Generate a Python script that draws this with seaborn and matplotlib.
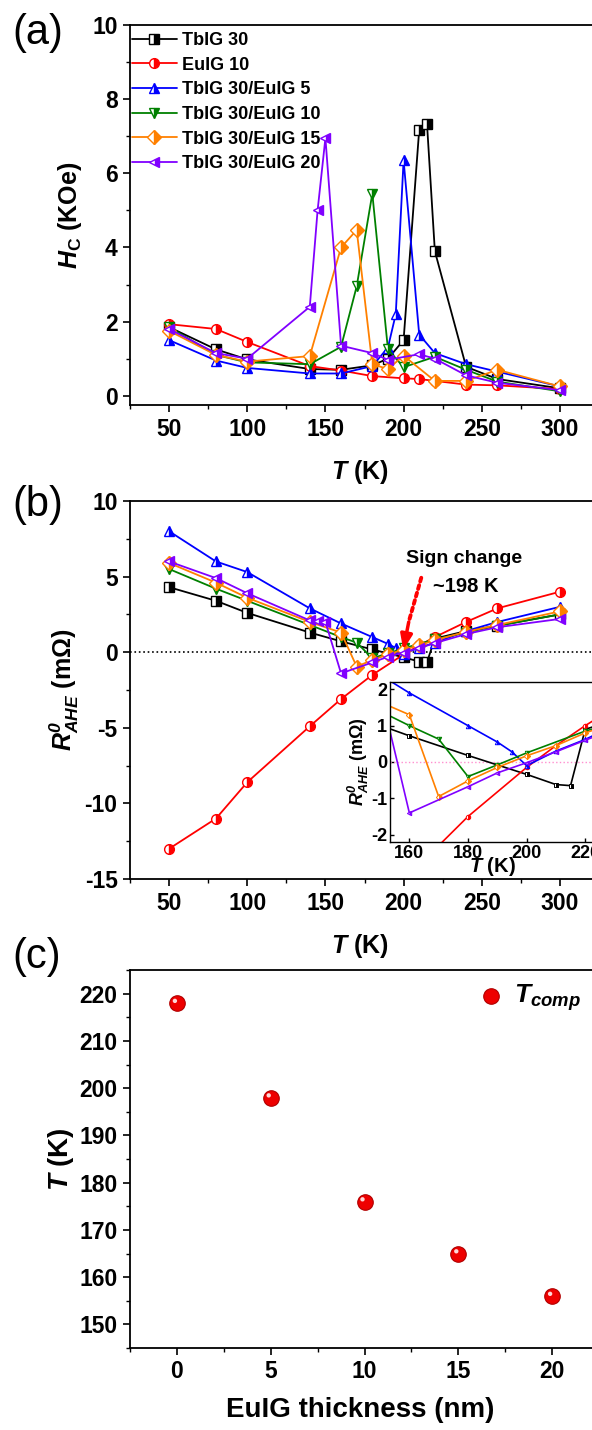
import numpy as np
import pandas as pd
import matplotlib
matplotlib.use("Agg")
import matplotlib.pyplot as plt
import matplotlib.transforms as mtransforms
from matplotlib.ticker import MultipleLocator
import seaborn as sns

sns.set_style("ticks")
plt.rcParams['font.family'] = ['Liberation Sans', 'DejaVu Sans']
plt.rcParams['font.weight'] = 'bold'
plt.rcParams['axes.labelweight'] = 'bold'
plt.rcParams['axes.unicode_minus'] = False
for k in ['text.color', 'axes.labelcolor', 'xtick.color', 'ytick.color', 'axes.edgecolor']:
    plt.rcParams[k] = 'black'
plt.rcParams['mathtext.fontset'] = 'custom'
plt.rcParams['mathtext.rm'] = 'Liberation Sans:bold'
plt.rcParams['mathtext.bf'] = 'Liberation Sans:bold'
plt.rcParams['mathtext.it'] = 'Liberation Sans:italic:bold'
plt.rcParams['mathtext.bfit'] = 'Liberation Sans:italic:bold'

# ---------------- data ----------------
series_labels = ["TbIG 30", "EuIG 10", "TbIG 30/EuIG 5",
                 "TbIG 30/EuIG 10", "TbIG 30/EuIG 15", "TbIG 30/EuIG 20"]
series_colors = ["#000000", "#FF0000", "#0000FF", "#008000", "#FF8000", "#8000FF"]
series_markers = ["s", "o", "^", "v", "D", "<"]

# (a) coercivity H_C (kOe) vs T (K)
hc_T_tbig30 = [50, 80, 100, 140, 160, 180, 190, 200, 210, 215, 220, 240, 260, 300]
hc_tbig30 = [1.85, 1.25, 0.98, 0.72, 0.70, 0.82, 1.0, 1.5, 7.18, 7.32, 3.9, 0.78, 0.45, 0.2]
hc_T_euig10 = [50, 80, 100, 140, 160, 180, 200, 210, 220, 240, 260, 300]
hc_euig10 = [1.93, 1.8, 1.45, 0.8, 0.68, 0.53, 0.47, 0.45, 0.4, 0.3, 0.28, 0.18]
hc_T_e5 = [50, 80, 100, 140, 160, 180, 190, 195, 200, 210, 220, 240, 260, 300]
hc_e5 = [1.5, 0.95, 0.75, 0.6, 0.6, 0.8, 1.3, 2.2, 6.35, 1.65, 1.15, 0.85, 0.65, 0.25]
hc_T_e10 = [50, 80, 100, 140, 160, 170, 180, 190, 200, 220, 240, 260, 300]
hc_e10 = [1.85, 1.1, 0.9, 0.85, 1.32, 2.95, 5.45, 1.25, 0.77, 1.05, 0.7, 0.38, 0.12]
hc_T_e15 = [50, 80, 100, 140, 160, 170, 180, 190, 200, 220, 240, 260, 300]
hc_e15 = [1.75, 1.1, 0.92, 1.07, 4.0, 4.47, 0.85, 0.72, 1.08, 0.4, 0.4, 0.7, 0.25]
hc_T_e20 = [50, 80, 100, 140, 145, 150, 160, 180, 190, 210, 220, 240, 260, 300]
hc_e20 = [1.8, 1.15, 1.0, 2.4, 5.0, 6.95, 1.35, 1.15, 0.97, 1.12, 1.0, 0.55, 0.35, 0.15]

# (b) R0_AHE (mOhm) vs T (K)
r_T_tbig30 = [50, 80, 100, 140, 160, 180, 200, 210, 215, 220, 240, 260, 300]
r_tbig30 = [4.3, 3.4, 2.6, 1.3, 0.72, 0.18, -0.34, -0.62, -0.65, 0.9, 1.4, 1.75, 2.5]
r_T_euig10 = [50, 80, 100, 140, 160, 180, 200, 210, 220, 240, 260, 300]
r_euig10 = [-13.0, -11.0, -8.6, -4.9, -3.1, -1.5, -0.15, 0.45, 1.0, 2.0, 2.9, 4.0]
r_T_e5 = [50, 80, 100, 140, 160, 180, 190, 195, 200, 210, 220, 240, 260, 300]
r_e5 = [8.0, 6.0, 5.3, 2.9, 1.9, 1.0, 0.55, 0.28, -0.1, 0.3, 0.62, 1.4, 2.0, 3.0]
r_T_e10 = [50, 80, 100, 140, 160, 170, 180, 190, 200, 220, 240, 260, 300]
r_e10 = [5.5, 4.2, 3.4, 1.8, 1.0, 0.63, -0.4, -0.08, 0.25, 0.85, 1.3, 1.75, 2.5]
r_T_e15 = [50, 80, 100, 140, 160, 170, 180, 190, 200, 210, 220, 240, 260, 300]
r_e15 = [5.9, 4.6, 3.6, 2.0, 1.3, -0.95, -0.52, -0.15, 0.17, 0.45, 0.8, 1.35, 1.8, 2.7]
r_T_e20 = [50, 80, 100, 140, 145, 150, 160, 180, 190, 200, 210, 220, 240, 260, 300]
r_e20 = [6.0, 4.9, 3.9, 2.1, 2.05, 2.0, -1.4, -0.68, -0.3, -0.02, 0.28, 0.6, 1.2, 1.65, 2.2]

# (c) compensation temperature vs EuIG thickness
euig_thickness = [0, 5, 10, 15, 20]
t_comp = [218, 198, 176, 165, 156]

hc_T = [hc_T_tbig30, hc_T_euig10, hc_T_e5, hc_T_e10, hc_T_e15, hc_T_e20]
hc_V = [hc_tbig30, hc_euig10, hc_e5, hc_e10, hc_e15, hc_e20]
r_T = [r_T_tbig30, r_T_euig10, r_T_e5, r_T_e10, r_T_e15, r_T_e20]
r_V = [r_tbig30, r_euig10, r_e5, r_e10, r_e15, r_e20]

# ---------------- figure ----------------
W, H = 592, 1430
fig = plt.figure(figsize=(W / 100, H / 100), dpi=100)


def px_axes(left, top, right, bottom):
    return fig.add_axes([left / W, 1 - bottom / H, (right - left) / W, (bottom - top) / H])


def draw_series(ax, T, V, color, marker, label, ms, lw, mew):
    df = pd.DataFrame({"T": T, "v": V})
    sns.lineplot(data=df, x="T", y="v", ax=ax, color=color, marker=marker,
                 markersize=ms, fillstyle="right", markerfacecoloralt="white",
                 markeredgecolor=color, markeredgewidth=mew, linewidth=lw,
                 label=label, estimator=None, sort=False, legend=False)


def style_axes(ax, labelsize=16.5):
    for s in ["left", "bottom", "top", "right"]:
        ax.spines[s].set_linewidth(1.3)
        ax.spines[s].set_color("black")
    ax.tick_params(which="major", direction="out", length=5, width=1.2,
                   labelsize=labelsize, top=False, right=False, pad=4)
    ax.tick_params(which="minor", direction="out", length=3, width=1.0,
                   top=False, right=False)
    for lab in ax.get_xticklabels() + ax.get_yticklabels():
        lab.set_fontweight("bold")


# ---- panel (a)
axa = px_axes(130, 25, 599, 405)
for i in range(6):
    draw_series(axa, hc_T[i], hc_V[i], series_colors[i], series_markers[i],
                series_labels[i], 7, 1.3, 1.0)
axa.set_xlim(25, 325)
axa.set_ylim(-0.25, 10)
axa.xaxis.set_major_locator(MultipleLocator(50))
axa.xaxis.set_minor_locator(MultipleLocator(25))
axa.yaxis.set_major_locator(MultipleLocator(2))
axa.yaxis.set_minor_locator(MultipleLocator(1))
style_axes(axa)
axa.set_xlabel(r"$\bfit{T}$ (K)", fontsize=18, fontweight="bold")
axa.set_ylabel(r"$\bfit{H}_\mathbf{C}$ (KOe)", fontsize=18, fontweight="bold")
axa.xaxis.set_label_coords(0.49, -0.14)
axa.yaxis.set_label_coords(-0.098, 0.5)
handles, labels = axa.get_legend_handles_labels()
axa.legend(handles, labels, loc="upper left", bbox_to_anchor=(-0.012, 1.0), frameon=False,
           prop={"size": 13, "weight": "bold"}, handlelength=2.5, handletextpad=0.3,
           labelspacing=0.42, borderaxespad=0.1, borderpad=0.3)

# ---- panel (b)
axb = px_axes(130, 501, 599, 879)
axb.axhline(0, color="black", linestyle=":", linewidth=1.2)
for i in range(6):
    draw_series(axb, r_T[i], r_V[i], series_colors[i], series_markers[i],
                series_labels[i], 7, 1.3, 1.0)
axb.set_xlim(25, 325)
axb.set_ylim(-15, 10)
axb.xaxis.set_major_locator(MultipleLocator(50))
axb.xaxis.set_minor_locator(MultipleLocator(25))
axb.yaxis.set_major_locator(MultipleLocator(5))
axb.yaxis.set_minor_locator(MultipleLocator(2.5))
style_axes(axb)
axb.set_xlabel(r"$\bfit{T}$ (K)", fontsize=18, fontweight="bold")
axb.set_ylabel(r"$\bfit{R}^{\bfit{0}}_{\bfit{AHE}}$ (m$\mathbf{\Omega}$)", fontsize=18,
               fontweight="bold")
axb.xaxis.set_label_coords(0.49, -0.14)
axb.yaxis.set_label_coords(-0.105, 0.5)
# sign-change annotation
axb.annotate("", xy=(203.0, 1.9), xytext=(211.8, 5.1),
             arrowprops=dict(arrowstyle="-", color="red", lw=2.8, linestyle=(0, (1, 1))))
axb.annotate("", xy=(199.8, 0.15), xytext=(203.3, 2.0),
             arrowprops=dict(arrowstyle="-|>,head_length=0.9,head_width=0.35",
                             color="red", lw=2.5, shrinkA=0, shrinkB=0))
axb.text(239, 6.2, "Sign change", ha="center", va="center", fontsize=14, fontweight="bold")
axb.text(239.5, 4.35, "~198 K", ha="center", va="center", fontsize=14.5, fontweight="bold")

# ---- inset
axi = px_axes(390, 682, 594, 842)
axi.axhline(0, color="#FF8FD0", linestyle=":", linewidth=1.0)
for i in range(6):
    draw_series(axi, r_T[i], r_V[i], series_colors[i], series_markers[i],
                series_labels[i], 3.2, 1.2, 0.7)
axi.set_xlim(153.4, 223)
axi.set_ylim(-2.2, 2.2)
axi.xaxis.set_major_locator(MultipleLocator(20))
axi.yaxis.set_major_locator(MultipleLocator(1))
for s in ["left", "bottom", "top", "right"]:
    axi.spines[s].set_linewidth(1.0)
    axi.spines[s].set_color("black")
axi.tick_params(which="major", direction="in", length=3, width=1.0, labelsize=13,
                top=False, right=False, pad=2)
for lab in axi.get_xticklabels() + axi.get_yticklabels():
    lab.set_fontweight("bold")
axi.set_xlabel(r"$\bfit{T}$ (K)", fontsize=14.5, fontweight="bold", labelpad=-5)
axi.set_ylabel(r"$\bfit{R}^{\bfit{0}}_{\bfit{AHE}}$ (m$\mathbf{\Omega}$)", fontsize=13,
               fontweight="bold", labelpad=0)

# ---- panel (c)
axc = px_axes(130, 970, 599, 1348)
df_c = pd.DataFrame({"d": euig_thickness, "T": t_comp})
sns.scatterplot(data=df_c, x="d", y="T", ax=axc, s=125, color="#EE0000",
                edgecolor="#B00000", linewidth=0.8, label=r"$\bfit{T}_{\bfit{comp}}$",
                legend=False, zorder=3)
hl = mtransforms.offset_copy(axc.transData, fig=fig, x=-2.0, y=2.2, units="dots")
sns.scatterplot(data=df_c, x="d", y="T", ax=axc, s=10, color="#FFD8D8",
                edgecolor="none", linewidth=0, transform=hl, legend=False, zorder=4)
axc.set_xlim(-2.5, 22.5)
axc.set_ylim(145, 225)
axc.xaxis.set_major_locator(MultipleLocator(5))
axc.xaxis.set_minor_locator(MultipleLocator(2.5))
axc.yaxis.set_major_locator(MultipleLocator(10))
axc.yaxis.set_minor_locator(MultipleLocator(5))
style_axes(axc)
axc.set_xlabel("EuIG thickness (nm)", fontsize=20, fontweight="bold")
axc.set_ylabel(r"$\bfit{T}$ (K)", fontsize=20, fontweight="bold")
axc.xaxis.set_label_coords(0.49, -0.13)
axc.yaxis.set_label_coords(-0.115, 0.5)
h, l = axc.get_legend_handles_labels()
axc.legend(h[:1], l[:1], loc="center left", bbox_to_anchor=(0.752, 0.926), frameon=False,
           prop={"size": 19, "weight": "bold"}, handlelength=0.6, handletextpad=0.6,
           borderpad=0, borderaxespad=0)

# panel letters
fig.text(12 / W, 1 - 33 / H, "(a)", fontsize=30, fontweight="normal", va="center")
fig.text(12 / W, 1 - 505 / H, "(b)", fontsize=30, fontweight="normal", va="center")
fig.text(12 / W, 1 - 957 / H, "(c)", fontsize=30, fontweight="normal", va="center")

fig.savefig("out.png", dpi=100)
